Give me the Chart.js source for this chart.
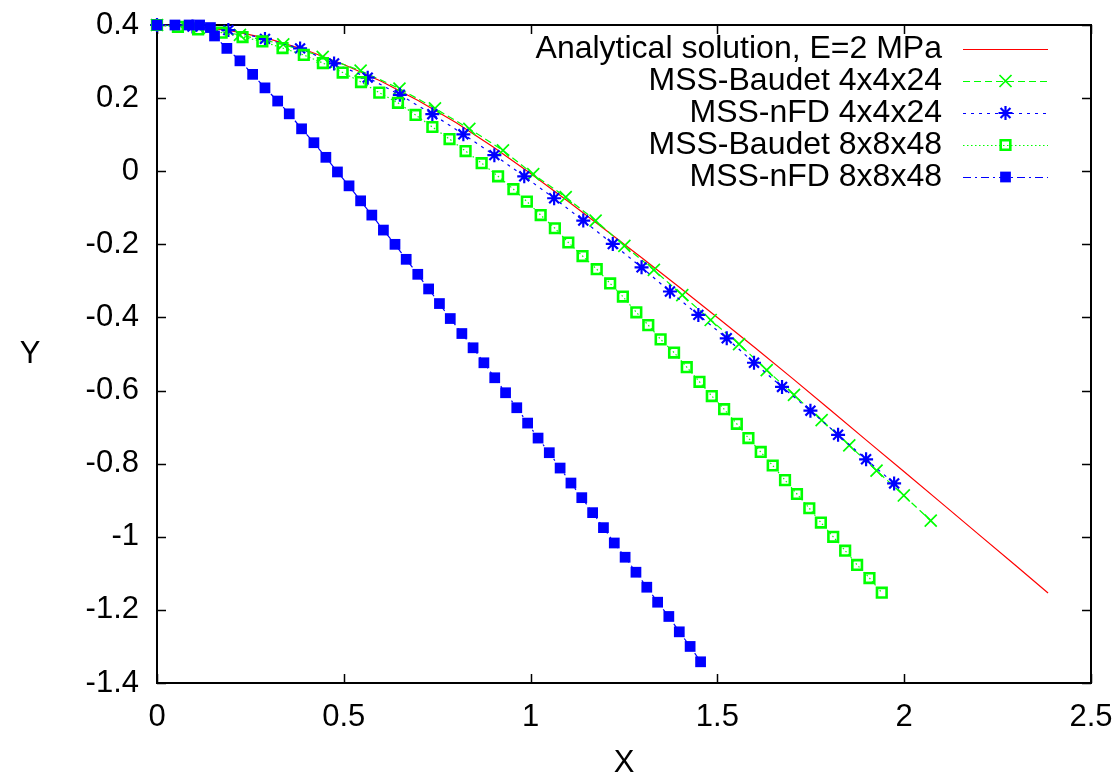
<!DOCTYPE html>
<html>
<head>
<meta charset="utf-8">
<script src="https://cdn.jsdelivr.net/npm/chart.js@4/dist/chart.umd.min.js"></script>
<style>
html,body{margin:0;padding:0;background:#fff;}
#wrap{width:1116px;height:776px;position:relative;}
</style>
</head>
<body>
<div id="wrap"><canvas id="c" width="1116" height="776"></canvas></div>
<script>
// ---------- data ----------
const seriesLabels = [
  "Analytical solution, E=2 MPa",
  "MSS-Baudet 4x4x24",
  "MSS-nFD 4x4x24",
  "MSS-Baudet 8x8x48",
  "MSS-nFD 8x8x48"
];

const analyticalX = [0,0.1,0.2,0.3,0.4,0.5,0.6,0.7,0.8,0.9,1.0,1.1,1.2,1.3,1.4,1.5,1.6,1.7,1.8,1.9,2.0,2.1,2.2,2.3,2.385];
const analyticalY = [0.4,0.396,0.384,0.362,0.331,0.292,0.246,0.193,0.133,0.066,-0.006,-0.082,-0.16,-0.239,-0.319,-0.4,-0.482,-0.566,-0.651,-0.737,-0.822,-0.908,-0.994,-1.08,-1.154];

const baudet4X = [0,0.112,0.222,0.338,0.4435,0.545,0.649,0.744,0.836,0.926,1.007,1.094,1.174,1.251,1.330,1.406,1.482,1.558,1.632,1.705,1.779,1.853,1.926,1.999,2.071];
const baudet4Y = [0.4,0.392,0.373,0.347,0.313,0.275,0.226,0.172,0.116,0.057,-0.008,-0.071,-0.135,-0.204,-0.270,-0.339,-0.407,-0.473,-0.544,-0.612,-0.681,-0.750,-0.819,-0.887,-0.956];

const nfd4X = [0,0.095,0.191,0.289,0.383,0.474,0.564,0.650,0.737,0.820,0.903,0.983,1.063,1.141,1.220,1.297,1.373,1.449,1.525,1.598,1.673,1.749,1.823,1.898,1.973];
const nfd4Y = [0.4,0.396,0.386,0.362,0.336,0.295,0.256,0.209,0.156,0.101,0.044,-0.014,-0.074,-0.135,-0.199,-0.263,-0.329,-0.393,-0.457,-0.524,-0.590,-0.655,-0.721,-0.788,-0.854];

const baudet8X = [0,0.056,0.110,0.173,0.229,0.282,0.336,0.393,0.444,0.497,0.546,0.595,0.645,0.692,0.737,0.783,0.826,0.869,0.913,0.954,0.990,1.027,1.065,1.101,1.139,1.177,1.213,1.247,1.283,1.315,1.348,1.384,1.418,1.452,1.485,1.518,1.552,1.583,1.616,1.648,1.681,1.713,1.746,1.777,1.810,1.842,1.874,1.907,1.940];
const baudet8Y = [0.4,0.395,0.388,0.379,0.367,0.355,0.337,0.318,0.296,0.270,0.244,0.215,0.187,0.154,0.121,0.088,0.055,0.022,-0.014,-0.049,-0.083,-0.120,-0.156,-0.195,-0.232,-0.268,-0.307,-0.343,-0.386,-0.421,-0.460,-0.496,-0.536,-0.576,-0.615,-0.651,-0.691,-0.730,-0.768,-0.805,-0.845,-0.883,-0.922,-0.961,-1.000,-1.038,-1.077,-1.113,-1.153];

const nfd8X = [0,0.048,0.086,0.114,0.143,0.154,0.187,0.222,0.256,0.289,0.323,0.354,0.387,0.420,0.452,0.483,0.514,0.545,0.575,0.606,0.637,0.667,0.698,0.727,0.756,0.785,0.816,0.846,0.875,0.904,0.933,0.963,0.992,1.020,1.050,1.079,1.108,1.137,1.166,1.195,1.224,1.253,1.282,1.311,1.340,1.370,1.398,1.427,1.455];
const nfd8Y = [0.4,0.4,0.4,0.4,0.393,0.370,0.336,0.302,0.265,0.228,0.192,0.157,0.116,0.078,0.038,-0.002,-0.040,-0.081,-0.120,-0.161,-0.200,-0.241,-0.282,-0.322,-0.362,-0.403,-0.444,-0.483,-0.524,-0.565,-0.606,-0.647,-0.689,-0.730,-0.770,-0.812,-0.853,-0.893,-0.934,-0.975,-1.017,-1.056,-1.097,-1.138,-1.179,-1.218,-1.260,-1.300,-1.342];

const xTickValues = [0,0.5,1,1.5,2,2.5];
const xTickLabels = ["0","0.5","1","1.5","2","2.5"];
const yTickValues = [-1.4,-1.2,-1,-0.8,-0.6,-0.4,-0.2,0,0.2,0.4];
const yTickLabels = ["-1.4","-1.2","-1","-0.8","-0.6","-0.4","-0.2","0","0.2","0.4"];
const xTitle = "X";
const yTitle = "Y";

// ---------- styling ----------
const FONT = '"Liberation Sans", Arial, Helvetica, sans-serif';
const FS = 31;
const LEG_FS = 32;
const RED = '#ff0000', GREEN = '#00ff00', BLUE = '#0000ff';

const toPts = (xs, ys) => xs.map((v, i) => ({x: v, y: ys[i]}));

const datasets = [
  {label: seriesLabels[0], data: toPts(analyticalX, analyticalY), borderColor: RED, borderWidth: 1.2,
   pointRadius: 0, pointStyle: false, borderDash: []},
  {label: seriesLabels[1], data: toPts(baudet4X, baudet4Y), borderColor: GREEN, borderWidth: 1.2,
   borderDash: [7, 4], pointStyle: 'crossRot', pointRadius: 8.5, pointBorderWidth: 1.7,
   pointBorderColor: GREEN, pointBackgroundColor: GREEN},
  {label: seriesLabels[2], data: toPts(nfd4X, nfd4Y), borderColor: BLUE, borderWidth: 1.2,
   borderDash: [3, 5], pointStyle: 'star', pointRadius: 7, pointBorderWidth: 2.2,
   pointBorderColor: BLUE, pointBackgroundColor: BLUE},
  {label: seriesLabels[3], data: toPts(baudet8X, baudet8Y), borderColor: GREEN, borderWidth: 1.2,
   borderDash: [1.5, 2.5], pointStyle: 'rect', pointRadius: 6.8, pointBorderWidth: 2.6,
   pointBorderColor: GREEN, pointBackgroundColor: 'rgba(0,0,0,0)'},
  {label: seriesLabels[4], data: toPts(nfd8X, nfd8Y), borderColor: BLUE, borderWidth: 1.2,
   borderDash: [8, 4, 2, 4], pointStyle: 'rect', pointRadius: 7.6, pointBorderWidth: 0,
   pointBorderColor: BLUE, pointBackgroundColor: BLUE}
];
datasets.forEach((d, i) => {
  d.fill = false; d.tension = 0; d.clip = false; d.order = datasets.length - 1 - i;
  d.pointHoverRadius = d.pointRadius;
});

const TICK = 9;
const framePlugin = {
  id: 'frame',
  beforeDatasetsDraw(chart) {
    const {ctx, chartArea: a, scales: {x, y}} = chart;
    ctx.save();
    ctx.strokeStyle = '#000';
    ctx.lineWidth = 1.5;
    ctx.beginPath();
    x.ticks.forEach(t => {
      const px = Math.round(x.getPixelForValue(t.value)) + 0.5;
      ctx.moveTo(px, a.bottom); ctx.lineTo(px, a.bottom - TICK);
      ctx.moveTo(px, a.top); ctx.lineTo(px, a.top + TICK);
    });
    y.ticks.forEach(t => {
      const py = Math.round(y.getPixelForValue(t.value)) + 0.5;
      ctx.moveTo(a.left, py); ctx.lineTo(a.left + TICK, py);
      ctx.moveTo(a.right, py); ctx.lineTo(a.right - TICK, py);
    });
    ctx.stroke();
    ctx.lineWidth = 2;
    ctx.strokeRect(a.left, a.top, a.right - a.left, a.bottom - a.top);
    // upright Y title
    ctx.fillStyle = '#000';
    ctx.font = FS + 'px ' + FONT;
    ctx.textAlign = 'center';
    ctx.textBaseline = 'middle';
    ctx.fillText(yTitle, 30, (a.top + a.bottom) / 2);
    ctx.restore();
  }
};

const legendPlugin = {
  id: 'gpLegend',
  afterDraw(chart) {
    const {ctx} = chart;
    const textRight = 942, x0 = 963, x1 = 1048, top = 49, step = 32;
    ctx.save();
    chart.data.datasets.forEach((d, i) => {
      const yy = top + i * step;
      ctx.fillStyle = '#000';
      ctx.font = LEG_FS + 'px ' + FONT;
      ctx.textAlign = 'right';
      ctx.textBaseline = 'middle';
      ctx.fillText(d.label, textRight, yy);
      ctx.strokeStyle = d.borderColor;
      ctx.lineWidth = d.borderWidth;
      ctx.setLineDash(d.borderDash || []);
      ctx.beginPath();
      ctx.moveTo(x0, yy + 0.5); ctx.lineTo(x1, yy + 0.5);
      ctx.stroke();
      ctx.setLineDash([]);
      if (d.pointStyle) {
        ctx.strokeStyle = d.pointBorderColor;
        ctx.fillStyle = d.pointBackgroundColor;
        ctx.lineWidth = d.pointBorderWidth;
        Chart.helpers.drawPoint(ctx, {pointStyle: d.pointStyle, radius: d.pointRadius, rotation: 0,
          borderWidth: d.pointBorderWidth}, (x0 + x1) / 2, yy);
      }
    });
    ctx.restore();
  }
};

new Chart(document.getElementById('c'), {
  type: 'line',
  data: {datasets},
  options: {
    responsive: false,
    animation: false,
    devicePixelRatio: 1,
    layout: {padding: {left: 0, right: 25, top: 25, bottom: 0}},
    plugins: {legend: {display: false}, tooltip: {enabled: false}},
    events: [],
    scales: {
      x: {
        type: 'linear', min: 0, max: 2.5, position: 'bottom',
        grid: {display: false}, border: {display: false},
        afterBuildTicks: s => { s.ticks = xTickValues.map(v => ({value: v})); },
        afterFit: s => { s.height = 776 - 683; s.paddingLeft = 0; s.paddingRight = 0; },
        ticks: {autoSkip: false, maxRotation: 0, padding: 8, color: '#000',
          font: {family: FONT, size: FS},
          callback: (v, i) => xTickLabels[i]},
        title: {display: true, text: xTitle, color: '#000',
          font: {family: FONT, size: FS, lineHeight: 0.8}, padding: {top: 0, bottom: 0}}
      },
      y: {
        type: 'linear', min: -1.4, max: 0.4, position: 'left',
        grid: {display: false}, border: {display: false},
        afterBuildTicks: s => { s.ticks = yTickValues.map(v => ({value: v})); },
        afterFit: s => { s.width = 157; s.paddingTop = 0; s.paddingBottom = 0; },
        ticks: {autoSkip: false, padding: 10, color: '#000',
          font: {family: FONT, size: FS},
          callback: (v, i) => yTickLabels[i]}
      }
    }
  },
  plugins: [framePlugin, legendPlugin]
});
</script>
</body>
</html>
